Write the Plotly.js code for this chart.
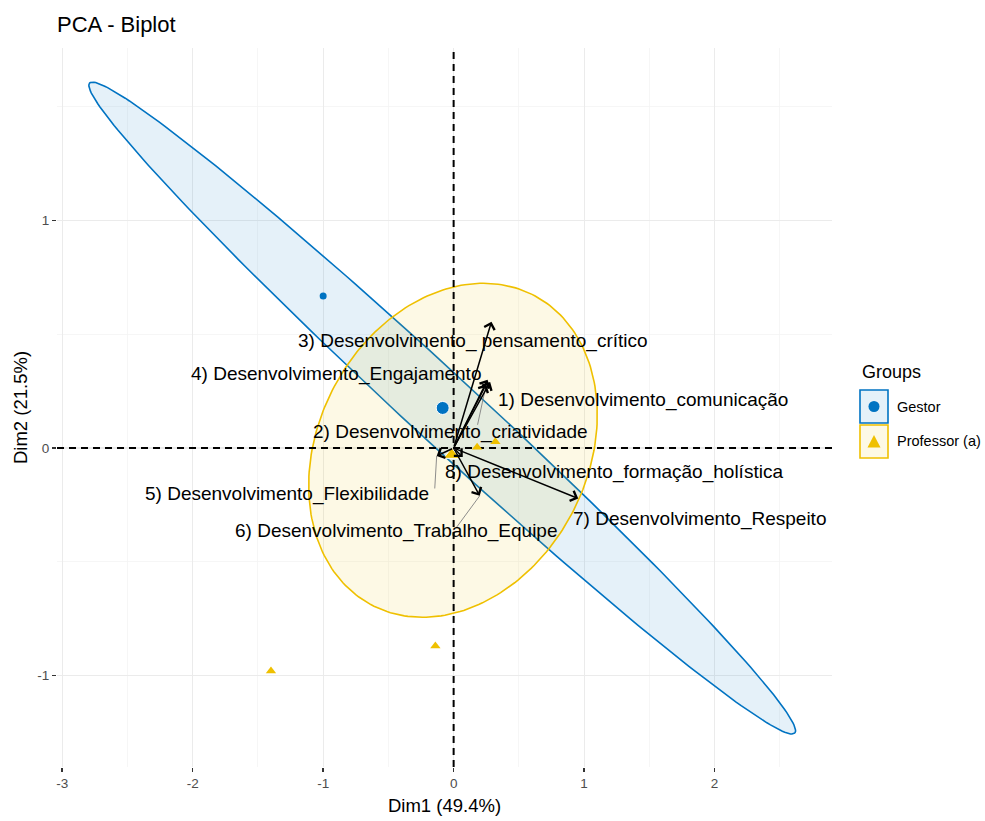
<!DOCTYPE html>
<html>
<head>
<meta charset="utf-8">
<script src="https://cdn.plot.ly/plotly-3.0.1.min.js"></script>
<style>html,body{margin:0;padding:0;background:#fff;}</style>
</head>
<body>
<div id="chart" style="width:985px;height:821px;"></div>
<script>
// ---- variables (arrows from the origin) ----
const varNames = [
  '1) Desenvolvimento_comunicação',
  '2) Desenvolvimento_criatividade',
  '3) Desenvolvimento_ pensamento_crítico',
  '4) Desenvolvimento_Engajamento',
  '5) Desenvolvimento_Flexibilidade',
  '6) Desenvolvimento_Trabalho_Equipe',
  '7) Desenvolvimento_Respeito',
  '8) Desenvolvimento_formação_holística'
];
const varX = [0.28, 0.25, 0.29, 0.26, -0.13, 0.20, 0.955, 0.07];
const varY = [0.29, 0.28, 0.555, 0.30, -0.035, -0.21, -0.222, -0.04];

// ---- individuals ----
const groupNames = ['Gestor', 'Professor (a)'];
const gestorX = [-1.00];
const gestorY = [0.668];
const profX = [-1.40, -0.14, 0.18, 0.32];
const profY = [-0.98, -0.87, 0.003, 0.028];

// ---- group centres ----
const meanX = [-0.084, -0.015];
const meanY = [0.176, -0.030];

// ---- concentration ellipses: centre and two conjugate semi-axes ----
const ellCx = [-0.0875, -0.005];
const ellCy = [0.1755, -0.010];
const ellUx = [2.7025, 0.234];
const ellUy = [-1.4285, 0.734];
const ellVx = [0.176, 1.081];
const ellVy = [0.110, 0.0];

// ---- axis ticks ----
const xRange = [-3.04, 2.90];
const yRange = [-1.402, 1.758];
const xTickVals = [-3, -2, -1, 0, 1, 2];
const xTickText = ['-3', '-2', '-1', '0', '1', '2'];
const yTickVals = [-1, 0, 1];
const yTickText = ['-1', '0', '1'];
const xMinorVals = [-2.5, -1.5, -0.5, 0.5, 1.5, 2.5];
const yMinorVals = [-0.5, 0.5, 1.5];

// ---- styling ----
const FONT = '"Liberation Sans", Arial, sans-serif';
const colors = ['#0073C2', '#EFC000'];
const fills = ['rgba(0,115,194,0.10)', 'rgba(239,192,0,0.10)'];

// label placement: pixel offset of the label centre from the arrow tip
const labelDx = [153, -36, -18, -152, -150, -83, 121, 151];
const labelDy = [18, 48, 19, -6, 38, 35, 20, 15];
// repel segments: pixel offset of the segment start from the arrow tip (null = none)
const segDx = [null, -9, null, null, -2, -25, null, null];
const segDy = [null, 42, null, null, 34, 34, null, null];

function ellipsePath(i) {
  const xs = [], ys = [];
  const n = 240;
  for (let k = 0; k <= n; k++) {
    const t = 2 * Math.PI * k / n;
    xs.push(ellCx[i] + ellUx[i] * Math.cos(t) + ellVx[i] * Math.sin(t));
    ys.push(ellCy[i] + ellUy[i] * Math.cos(t) + ellVy[i] * Math.sin(t));
  }
  return {xs, ys};
}

const traces = [];
[0, 1].forEach(i => {
  const e = ellipsePath(i);
  traces.push({
    x: e.xs, y: e.ys, type: 'scatter', mode: 'lines',
    fill: 'toself', fillcolor: fills[i],
    line: {color: colors[i], width: 1.6},
    hoverinfo: 'skip', showlegend: false
  });
});
// dashed reference lines through the origin
const refLine = {color: '#000000', width: 2, dash: '7px,5px'};
traces.push({x: [0, 0], y: yRange, type: 'scatter', mode: 'lines', line: refLine, hoverinfo: 'skip', showlegend: false});
traces.push({x: xRange, y: [0, 0], type: 'scatter', mode: 'lines', line: refLine, hoverinfo: 'skip', showlegend: false});

traces.push({
  x: gestorX, y: gestorY, type: 'scatter', mode: 'markers', name: groupNames[0],
  marker: {symbol: 'circle', size: 7, color: colors[0], opacity: 1}, showlegend: false
});
traces.push({
  x: profX, y: profY, type: 'scatter', mode: 'markers', name: groupNames[1],
  marker: {symbol: 'triangle-up', size: 9, color: colors[1], opacity: 1}, showlegend: false
});
traces.push({
  x: meanX, y: meanY, type: 'scatter', mode: 'markers',
  marker: {symbol: ['circle', 'triangle-up'], size: [13, 14], color: colors, opacity: 1},
  showlegend: false, hoverinfo: 'skip'
});

const annotations = [];
// repel segments (thin grey, from label to arrow tip)
varNames.forEach((nm, i) => {
  if (segDx[i] === null) return;
  annotations.push({
    x: varX[i], y: varY[i], xref: 'x', yref: 'y',
    ax: segDx[i], ay: segDy[i], axref: 'pixel', ayref: 'pixel',
    text: '', showarrow: true, arrowhead: 0, arrowwidth: 0.9,
    arrowcolor: '#808080', standoff: 0, startstandoff: 0
  });
});
// variable arrows
varNames.forEach((nm, i) => {
  annotations.push({
    x: varX[i], y: varY[i], xref: 'x', yref: 'y',
    ax: 0, ay: 0, axref: 'x', ayref: 'y',
    text: '', showarrow: true, arrowhead: 4, arrowsize: 1.4, arrowwidth: 1.5,
    arrowcolor: '#000000', standoff: 0
  });
});
// variable labels
varNames.forEach((nm, i) => {
  annotations.push({
    x: varX[i], y: varY[i], xref: 'x', yref: 'y',
    xshift: labelDx[i], yshift: -labelDy[i],
    text: nm, showarrow: false,
    font: {family: FONT, size: 19, color: '#000000'},
    xanchor: 'center', yanchor: 'middle'
  });
});

// legend built from shapes and text
const L = 57, R = 832, T = 48, B = 767;
const px = v => (v - L) / (R - L);
const py = v => (B - v) / (B - T);
annotations.push({
  xref: 'paper', yref: 'paper', x: px(860), y: py(372), xanchor: 'left', yanchor: 'middle',
  text: 'Groups', showarrow: false, font: {family: FONT, size: 18, color: '#000000'}
});
const keyTop = [390, 425];
groupNames.forEach((g, i) => {
  annotations.push({
    xref: 'paper', yref: 'paper', x: px(895), y: py(keyTop[i] + 16.5), xanchor: 'left', yanchor: 'middle',
    text: g, showarrow: false, font: {family: FONT, size: 14.5, color: '#000000'}
  });
});

const shapes = [];
groupNames.forEach((g, i) => {
  shapes.push({
    type: 'rect', xref: 'paper', yref: 'paper',
    x0: px(860), x1: px(888), y0: py(keyTop[i] + 33), y1: py(keyTop[i]),
    fillcolor: fills[i], line: {color: colors[i], width: 1.6}
  });
});
const cy0 = keyTop[0] + 16.5;
shapes.push({
  type: 'circle', xref: 'paper', yref: 'paper',
  x0: px(868.5), x1: px(879.5), y0: py(cy0 + 5.5), y1: py(cy0 - 5.5),
  fillcolor: colors[0], line: {width: 0}
});
const cy1 = keyTop[1] + 16.5;
shapes.push({
  type: 'path', xref: 'paper', yref: 'paper',
  path: `M ${px(867.5)} ${py(cy1 + 6)} L ${px(880.5)} ${py(cy1 + 6)} L ${px(874)} ${py(cy1 - 6.5)} Z`,
  fillcolor: colors[1], line: {width: 0}
});

const layout = {
  width: 985, height: 821,
  margin: {l: L, r: 985 - R, t: T, b: 821 - B},
  paper_bgcolor: '#ffffff', plot_bgcolor: '#ffffff',
  font: {family: FONT, color: '#4D4D4D'},
  title: {
    text: 'PCA - Biplot', x: L / 985, xanchor: 'left', xref: 'container',
    y: 1 - 24 / 821, yanchor: 'middle', yref: 'container',
    font: {family: FONT, size: 22, color: '#000000'}
  },
  xaxis: {
    range: xRange, tickmode: 'array', tickvals: xTickVals, ticktext: xTickText,
    showgrid: true, gridcolor: '#EBEBEB', gridwidth: 1.1, zeroline: false, showline: false,
    ticks: 'outside', ticklen: 4, tickwidth: 1.5, tickcolor: '#333333',
    tickfont: {family: FONT, size: 13.5, color: '#4D4D4D'},
    minor: {tickmode: 'array', tickvals: xMinorVals, showgrid: true, gridcolor: '#F4F4F4', gridwidth: 0.8, ticks: ''},
    title: {text: 'Dim1 (49.4%)', standoff: 8, font: {family: FONT, size: 18.5, color: '#000000'}}
  },
  yaxis: {
    range: yRange, tickmode: 'array', tickvals: yTickVals, ticktext: yTickText,
    showgrid: true, gridcolor: '#EBEBEB', gridwidth: 1.1, zeroline: false, showline: false,
    ticks: 'outside', ticklen: 4, tickwidth: 1.5, tickcolor: '#333333',
    tickfont: {family: FONT, size: 13.5, color: '#4D4D4D'},
    minor: {tickmode: 'array', tickvals: yMinorVals, showgrid: true, gridcolor: '#F4F4F4', gridwidth: 0.8, ticks: ''},
    title: {text: 'Dim2 (21.5%)', standoff: 4, font: {family: FONT, size: 18.5, color: '#000000'}}
  },
  showlegend: false,
  annotations: annotations,
  shapes: shapes
};

Plotly.newPlot('chart', traces, layout, {displayModeBar: false, staticPlot: true});
</script>
</body>
</html>
